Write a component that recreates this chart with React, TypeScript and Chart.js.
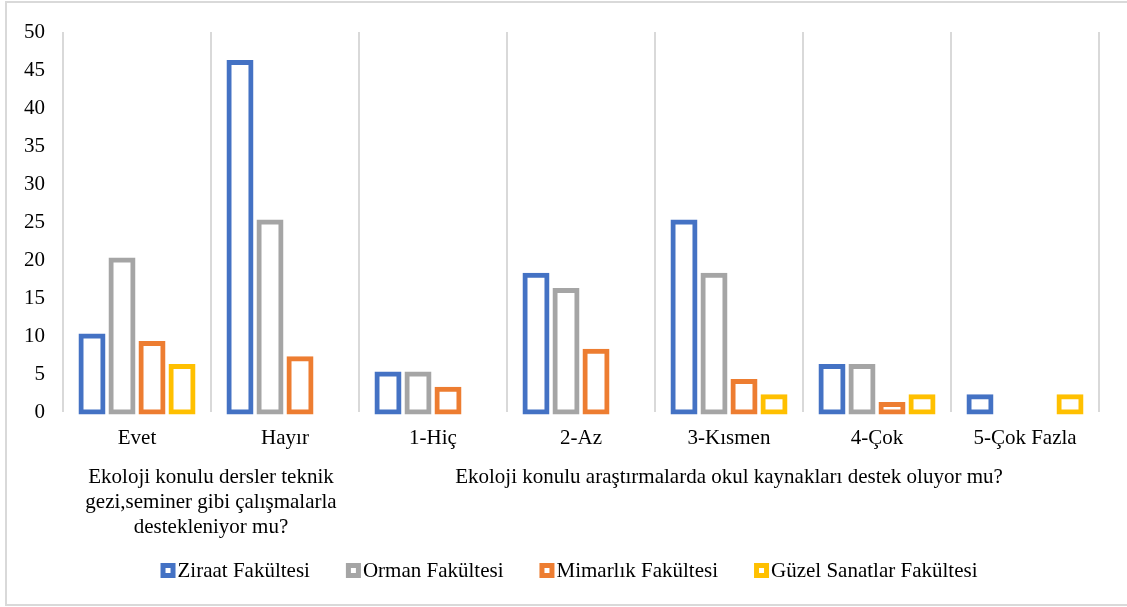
import React, { useEffect, useRef } from "react";
import { Chart, registerables } from "chart.js";

Chart.register(...registerables);

const categories = ["Evet", "Hayır", "1-Hiç", "2-Az", "3-Kısmen", "4-Çok", "5-Çok Fazla"];
const groupLabels = [
  ["Ekoloji konulu dersler teknik", "gezi,seminer gibi çalışmalarla", "destekleniyor mu?"],
  ["Ekoloji konulu araştırmalarda okul kaynakları destek oluyor mu?"],
];
const groupSpans = [
  [0, 1],
  [2, 6],
];
const seriesNames = ["Ziraat Fakültesi", "Orman Fakültesi", "Mimarlık Fakültesi", "Güzel Sanatlar Fakültesi"];
const seriesColors = ["#4472C4", "#A5A5A5", "#ED7D31", "#FFC000"];
const ziraat = [10, 46, 5, 18, 25, 6, 2];
const orman = [20, 25, 5, 16, 18, 6, null];
const mimarlik = [9, 7, 3, 8, 4, 1, null];
const guzelSanatlar = [6, null, null, null, 2, 2, 2];
const yMin = 0;
const yMax = 50;
const yStep = 5;

const FONT = "'Liberation Serif'";
const TEXT_COLOR = "#000000";

const framePlugin = {
  id: "frame",
  beforeDraw(chart: any) {
    const ctx = chart.ctx;
    ctx.save();
    ctx.fillStyle = "#ffffff";
    ctx.fillRect(0, 0, chart.width, chart.height);
    ctx.strokeStyle = "#d9d9d9";
    ctx.lineWidth = 2;
    ctx.strokeRect(6, 2, chart.width + 20, chart.height - 4);
    ctx.restore();
  },
};

const groupLabelPlugin = {
  id: "groupLabels",
  afterDraw(chart: any) {
    const ctx = chart.ctx;
    const xs = chart.scales.x;
    const bottom = chart.chartArea.bottom;
    ctx.save();
    ctx.font = `21px ${FONT}`;
    ctx.fillStyle = TEXT_COLOR;
    ctx.textAlign = "center";
    ctx.textBaseline = "alphabetic";
    groupLabels.forEach((lines, gi) => {
      const [a, b] = groupSpans[gi];
      const cx = (xs.getPixelForValue(a) + xs.getPixelForValue(b)) / 2;
      lines.forEach((line, li) => {
        ctx.fillText(line, cx, bottom + 71 + li * 25);
      });
    });
    ctx.restore();
  },
};

const legendPlugin = {
  id: "customLegend",
  afterDraw(chart: any) {
    const ctx = chart.ctx;
    ctx.save();
    ctx.font = `21px ${FONT}`;
    ctx.textBaseline = "middle";
    ctx.textAlign = "left";
    const box = 15;
    const gapText = 2;
    const gapItem = 36;
    const widths = seriesNames.map((n) => ctx.measureText(n).width);
    const total = widths.reduce((s, w) => s + box + gapText + w, 0) + gapItem * (seriesNames.length - 1);
    const centerX = 569;
    const cy = 570.5;
    let x = centerX - total / 2;
    seriesNames.forEach((name, i) => {
      ctx.fillStyle = seriesColors[i];
      ctx.fillRect(x, cy - box / 2, box, box);
      ctx.fillStyle = "#ffffff";
      ctx.fillRect(x + 5, cy - box / 2 + 5, box - 10, box - 10);
      ctx.fillStyle = TEXT_COLOR;
      ctx.fillText(name, x + box + gapText, cy + 1);
      x += box + gapText + widths[i] + gapItem;
    });
    ctx.restore();
  },
};

export default function App() {
  const canvasRef = useRef<HTMLCanvasElement | null>(null);

  useEffect(() => {
    document.body.style.margin = "0";
    const canvas = canvasRef.current;
    if (!canvas) return;
    const seriesData = [ziraat, orman, mimarlik, guzelSanatlar];
    const chart = new Chart(canvas, {
      type: "bar",
      data: {
        labels: categories,
        datasets: seriesNames.map((name, i) => ({
          label: name,
          data: seriesData[i],
          backgroundColor: "rgba(0,0,0,0)",
          borderColor: seriesColors[i],
          borderWidth: 0.01,
          inflateAmount: 2.5,
          borderSkipped: false,
          barPercentage: 0.733,
          categoryPercentage: 0.811,
          clip: false,
        })) as any,
      },
      options: {
        responsive: false,
        animation: false,
        devicePixelRatio: 1,
        font: { family: FONT, size: 21 },
        layout: { padding: { top: 32, right: 28, bottom: 155, left: 0 } },
        plugins: {
          legend: { display: false },
          tooltip: { enabled: false },
          title: { display: false },
        },
        scales: {
          x: {
            type: "category",
            offset: true,
            grid: {
              offset: true,
              color: "#d9d9d9",
              lineWidth: 2,
              drawTicks: false,
            },
            border: { display: false },
            ticks: {
              color: TEXT_COLOR,
              font: { family: FONT, size: 21 },
              padding: 14,
              maxRotation: 0,
              autoSkip: false,
            },
            afterFit: (s: any) => {
              s.height = 40;
            },
          },
          y: {
            min: yMin,
            max: yMax,
            grid: { display: false, drawTicks: false },
            border: { display: false },
            ticks: {
              stepSize: yStep,
              color: TEXT_COLOR,
              font: { family: FONT, size: 21 },
              padding: 18,
            },
            afterFit: (s: any) => {
              s.width = 63;
            },
          },
        },
      } as any,
      plugins: [framePlugin, groupLabelPlugin, legendPlugin],
    });
    return () => chart.destroy();
  }, []);

  return (
    <div style={{ width: 1127, height: 607 }}>
      <canvas ref={canvasRef} width={1127} height={607} style={{ display: "block" }} />
    </div>
  );
}
